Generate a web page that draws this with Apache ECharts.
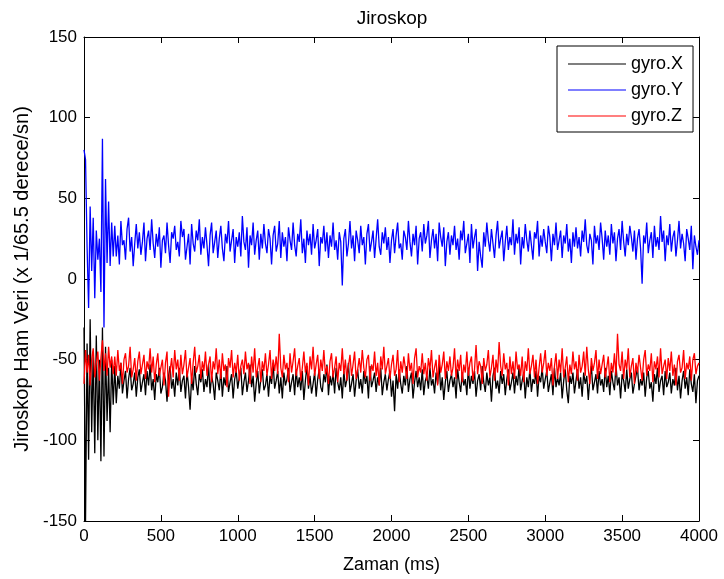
<!DOCTYPE html>
<html>
<head>
<meta charset="utf-8">
<title>Jiroskop</title>
<script src="https://cdn.jsdelivr.net/npm/echarts@6/dist/echarts.min.js"></script>
<style>
  html, body { margin: 0; padding: 0; background: #fff; }
  #chart { width: 724px; height: 579px; }
</style>
</head>
<body>
<div id="chart"></div>
<script>
// Raw gyroscope readings, one sample every 10 ms (0 .. 4000 ms)
const SAMPLE_MS = 10;
const seriesNames = ['gyro.X', 'gyro.Y', 'gyro.Z'];
const xTicks = [0, 500, 1000, 1500, 2000, 2500, 3000, 3500, 4000];
const yTicks = [-150, -100, -50, 0, 50, 100, 150];

const gyroX = [
  -30, -150, -40, -112, -25, -95, -45, -108, -35, -100, -50, -113, -30, -110, -42, -88, -55, -95, -50, -78,
  -54, -77, -60, -68, -52, -71, -63, -57, -74, -62, -55, -69, -65, -58, -73, -61, -56, -70, -64, -59,
  -72, -57, -66, -53, -69, -62, -75, -59, -64, -55, -71, -67, -58, -63, -76, -60, -54, -68, -62, -73,
  -58, -66, -55, -70, -63, -60, -74, -57, -67, -81, -61, -69, -54, -65, -72, -59, -64, -56, -70, -62,
  -67, -53, -71, -60, -65, -75, -58, -63, -69, -56, -73, -61, -66, -54, -70, -64, -59, -74, -62, -57,
  -68, -61, -55, -72, -64, -58, -70, -63, -53, -67, -60, -76, -65, -57, -71, -62, -56, -69, -66, -59,
  -73, -60, -65, -52, -68, -63, -57, -71, -61, -74, -58, -66, -62, -55, -70, -64, -59, -72, -56, -67,
  -61, -69, -57, -75, -63, -54, -68, -60, -71, -65, -58, -73, -62, -56, -67, -70, -59, -64, -53, -72,
  -60, -66, -58, -71, -55, -64, -69, -61, -74, -57, -67, -62, -52, -70, -65, -59, -73, -63, -56, -68,
  -62, -71, -57, -65, -60, -74, -54, -67, -63, -58, -70, -61, -66, -55, -72, -64, -59, -69, -62, -57,
  -73, -63, -82, -59, -68, -56, -65, -71, -60, -66, -54, -70, -62, -58, -74, -64, -57, -67, -61, -69,
  -56, -72, -63, -60, -68, -55, -66, -62, -71, -58, -65, -53, -69, -61, -75, -64, -57, -70, -63, -59,
  -67, -61, -74, -56, -64, -70, -58, -66, -62, -72, -55, -68, -60, -65, -57, -73, -63, -59, -69, -54,
  -64, -70, -58, -66, -61, -76, -60, -55, -68, -63, -71, -57, -65, -59, -72, -62, -56, -69, -64, -58,
  -71, -60, -66, -54, -69, -63, -58, -74, -61, -67, -56, -70, -62, -65, -57, -73, -60, -64, -55, -68,
  -62, -57, -70, -64, -59, -72, -55, -67, -61, -66, -58, -74, -63, -56, -69, -77, -60, -65, -58, -71,
  -63, -56, -68, -61, -73, -58, -65, -60, -75, -62, -54, -69, -64, -59, -71, -57, -66, -62, -70, -55,
  -67, -60, -72, -57, -64, -69, -53, -66, -61, -74, -59, -63, -70, -56, -68, -62, -58, -71, -65, -60,
  -55, -69, -62, -66, -58, -73, -61, -57, -68, -64, -76, -59, -65, -55, -70, -63, -60, -72, -57, -67,
  -64, -58, -71, -62, -66, -55, -69, -60, -74, -63, -57, -68, -61, -72, -56, -65, -70, -59, -77, -63,
  -60
];

const gyroY = [
  80, 74, 20, -18, 45, 5, 38, -12, 30, 12, 25, -8, 87, -30, 62, 10, 48, 8, 35, 14,
  33, 14, 27, 9, 36, 21, 24, 12, 31, 38, 17, 26, 8, 22, 34, 19, 29, 15, 23, 35,
  11, 25, 30, 18, 37, 22, 13, 28, 20, 32, 7, 24, 27, 16, 35, 21, 10, 29, 25, 33,
  18, 23, 14, 36, 26, 31, 12, 20, 28, 9, 34, 22, 17, 30, 24, 37, 15, 26, 19, 32,
  21, 8, 27, 35, 16, 23, 30, 13, 25, 33, 19, 11, 28, 22, 36, 17, 24, 31, 10, 26,
  20, 29, 14, 39, 23, 18, 32, 7, 27, 21, 35, 15, 24, 30, 12, 28, 19, 34, 22, 16,
  31, 25, 9, 27, 33, 17, 22, 36, 13, 29, 20, 26, 11, 32, 24, 18, 35, 21, 14, 28,
  23, 37, 16, 25, 10, 30, 21, 28, 15, 34, 19, 24, 31, 8, 26, 22, 33, 17, 29, 13,
  27, 20, 35, 18, 24, 12, 29, 23, -4, 25, 31, 14, 22, 36, 19, 27, 11, 30, 24, 16,
  33, 21, 26, 9, 28, 34, 17, 23, 30, 13, 25, 37, 20, 15, 29, 22, 32, 18, 26, 10,
  24, 31, 16, 27, 35, 19, 22, 12, 30, 26, 18, 36, 23, 14, 28, 21, 33, 9, 25, 29,
  17, 34, 22, 27, 36, 13, 24, 31, 19, 28, 11, 35, 26, 20, 32, 8, 23, 29, 15, 27,
  21, 33, 18, 25, 12, 30, 24, 36, 16, 22, 28, 10, 34, 19, 26, 31, 5, 23, 14, 7,
  29, 20, 35, 24, 17, 31, 22, 13, 27, 36, 19, 25, 30, 11, 23, 33, 18, 26, 21, 37,
  15, 28, 22, 32, 9, 26, 19, 34, 24, 17, 30, 21, 12, 29, 25, 36, 14, 27, 20, 31,
  23, 16, 33, 26, 11, 28, 21, 35, 18, 24, 30, 13, 27, 22, 34, 17, 25, 10, 29, 20,
  32, 19, 26, 14, 30, 23, 37, 21, 16, 28, 24, 9, 33, 22, 27, 18, 35, 25, 12, 30,
  20, 27, 15, 34, 22, 29, 11, 25, 31, 18, 36, 23, 14, 28, 21, 33, 26, 17, 30, 12,
  25, 31, 19, -3, 27, 22, 35, 16, 24, 29, 13, 33, 20, 26, 18, 39, 23, 30, 11, 27,
  21, 34, 17, 26, 30, 14, 24, 36, 19, 28, 22, 11, 31, 25, 18, 33, 6, 27, 20, 15,
  24
];

const gyroZ = [
  -65, -44, -58, -47, -66, -50, -43, -61, -52, -45, -63, -49, -38, -57, -46, -60, -42, -55, -48, -59,
  -48, -60, -44, -57, -52, -65, -50, -46, -58, -54, -42, -61, -56, -49, -63, -51, -45, -59, -53, -47,
  -62, -51, -56, -43, -58, -48, -64, -53, -46, -60, -55, -50, -66, -52, -45, -73, -57, -49, -61, -44,
  -56, -50, -63, -47, -59, -53, -44, -61, -55, -49, -65, -52, -42, -58, -54, -47, -62, -51, -57, -45,
  -60, -53, -48, -64, -51, -56, -43, -59, -50, -62, -46, -57, -53, -67, -49, -55, -44, -61, -52, -58,
  -47, -63, -54, -50, -59, -45, -56, -52, -65, -48, -58, -43, -61, -55, -49, -64, -51, -57, -46, -60,
  -53, -44, -62, -50, -57, -48, -59, -34, -55, -61, -47, -56, -52, -64, -46, -58, -51, -43, -60, -54,
  -49, -63, -55, -45, -58, -52, -66, -48, -56, -42, -60, -53, -47, -62, -50, -57, -44, -59, -54, -65,
  -51, -46, -61, -55, -48, -64, -52, -57, -43, -59, -50, -63, -54, -47, -60, -53, -45, -62, -56, -49,
  -58, -44, -55, -61, -50, -47, -63, -53, -57, -45, -60, -52, -66, -48, -56, -42, -59, -54, -49, -62,
  -53, -47, -60, -56, -44, -64, -51, -58, -48, -55, -62, -46, -57, -52, -65, -49, -43, -61, -54, -58,
  -46, -59, -52, -63, -49, -56, -44, -61, -55, -50, -66, -47, -58, -53, -45, -62, -51, -57, -48, -60,
  -55, -43, -62, -50, -57, -47, -64, -53, -58, -45, -60, -52, -48, -63, -56, -41, -59, -51, -54, -65,
  -49, -57, -53, -44, -61, -55, -47, -63, -50, -58, -39, -54, -60, -46, -56, -52, -66, -48, -59, -51,
  -62, -45, -56, -53, -60, -48, -64, -51, -57, -43, -59, -54, -47, -61, -50, -65, -55, -46, -58, -52,
  -44, -60, -52, -57, -49, -66, -54, -46, -62, -50, -58, -43, -61, -55, -48, -64, -53, -59, -45, -56,
  -51, -63, -47, -58, -54, -45, -60, -42, -56, -65, -49, -57, -52, -44, -62, -50, -59, -53, -47, -61,
  -55, -48, -64, -52, -58, -46, -60, -34, -53, -57, -45, -62, -50, -56, -43, -61, -54, -49, -65, -52,
  -58, -47, -55, -63, -50, -44, -60, -53, -57, -46, -64, -51, -56, -48, -61, -43, -59, -54, -50, -62,
  -49, -57, -45, -60, -53, -66, -51, -47, -58, -55, -44, -62, -52, -56, -48, -63, -50, -46, -59, -54,
  -52
];

const toPairs = arr => arr.map((v, i) => [i * SAMPLE_MS, v]);

const FONT = 'Liberation Sans, Arial, Helvetica, sans-serif';
const axisText = { color: '#000', fontFamily: FONT, fontSize: 17 };

const xMin = xTicks[0], xMax = xTicks[xTicks.length - 1];
const xStep = xTicks[1] - xTicks[0];
const yMin = yTicks[0], yMax = yTicks[yTicks.length - 1];
const yStep = yTicks[1] - yTicks[0];

const boxLine = { show: true, onZero: false, lineStyle: { color: '#000', width: 1 } };
const inTick = { show: true, inside: true, length: 6, lineStyle: { color: '#000', width: 1 } };

const chart = echarts.init(document.getElementById('chart'), null, { renderer: 'canvas' });

chart.setOption({
  animation: false,
  backgroundColor: '#fff',
  title: {
    text: 'Jiroskop',
    left: 387,
    textAlign: 'center',
    top: 4,
    textStyle: { color: '#000', fontFamily: FONT, fontSize: 19, fontWeight: 'normal' }
  },
  legend: {
    data: seriesNames,
    orient: 'vertical',
    left: 557,
    top: 46,
    width: 137,
    padding: [8, 10, 6, 11],
    itemWidth: 58,
    itemHeight: 1,
    itemGap: 6,
    icon: 'rect',
    backgroundColor: '#fff',
    borderColor: '#000',
    borderWidth: 1,
    borderRadius: 0,
    textStyle: { color: '#000', fontFamily: FONT, fontSize: 18, lineHeight: 20 }
  },
  grid: { left: 84, right: 25, top: 37, bottom: 55, containLabel: false },
  xAxis: [
    {
      type: 'value', min: xMin, max: xMax, interval: xStep,
      name: 'Zaman (ms)', nameLocation: 'middle', nameGap: 35,
      nameTextStyle: { color: '#000', fontFamily: FONT, fontSize: 18 },
      axisLine: boxLine, axisTick: inTick,
      axisLabel: Object.assign({ margin: 7, formatter: v => String(v) }, axisText),
      splitLine: { show: false }
    },
    {
      type: 'value', position: 'top', min: xMin, max: xMax, interval: xStep,
      axisLine: boxLine, axisTick: inTick, axisLabel: { show: false },
      splitLine: { show: false }
    }
  ],
  yAxis: [
    {
      type: 'value', min: yMin, max: yMax, interval: yStep,
      name: 'Jiroskop Ham Veri (x 1/65.5 derece/sn)', nameLocation: 'middle', nameGap: 51,
      nameRotate: 90,
      nameTextStyle: { color: '#000', fontFamily: FONT, fontSize: 20 },
      axisLine: boxLine, axisTick: inTick,
      axisLabel: Object.assign({ margin: 7, formatter: v => String(v) }, axisText),
      splitLine: { show: false }
    },
    {
      type: 'value', position: 'right', min: yMin, max: yMax, interval: yStep,
      axisLine: boxLine, axisTick: inTick, axisLabel: { show: false },
      splitLine: { show: false }
    }
  ],
  series: [
    { name: seriesNames[0], data: toPairs(gyroX), color: '#000000' },
    { name: seriesNames[1], data: toPairs(gyroY), color: '#0000ff' },
    { name: seriesNames[2], data: toPairs(gyroZ), color: '#ff0000' }
  ].map(s => ({
    name: s.name,
    type: 'line',
    data: s.data,
    showSymbol: false,
    symbol: 'none',
    clip: true,
    lineStyle: { color: s.color, width: 1.3 },
    itemStyle: { color: s.color },
    emphasis: { disabled: true }
  }))
});
</script>
</body>
</html>
